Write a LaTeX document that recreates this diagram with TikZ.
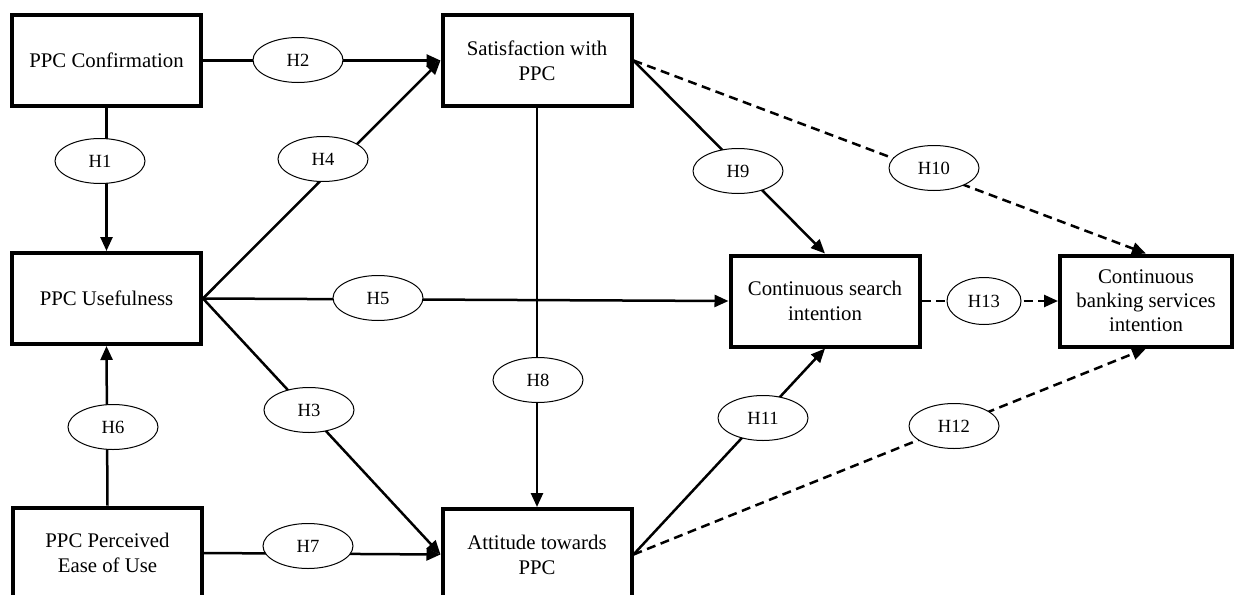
\documentclass[tikz,border=0pt]{standalone}
\usepackage{fontspec}
\setmainfont{Liberation Serif}
\usetikzlibrary{shapes, arrows.meta}

\begin{document}
\begin{tikzpicture}[
    x=0.5pt, y=-0.5pt,
    % --- styles ---
    % constructs: thick-bordered boxes
    construct/.style={draw, line width=2pt, fill=white, align=center, minimum width=94.5pt, minimum height=45.5pt, inner sep=2pt, font=\fontsize{10.4}{12.5}\selectfont},
    % hypothesis labels: thin ellipses
    hyp/.style={ellipse, draw, line width=0.5pt, fill=white, minimum width=45pt, minimum height=22.5pt, inner sep=0pt, font=\fontsize{9.3}{10}\selectfont},
    % paths
    path_arrow/.style={-{Triangle[length=7pt, width=6pt]}, line width=1.25pt},
    dash_arrow/.style={path_arrow, dash pattern=on 4.5pt off 2.8pt}
]
\clip (0,0) rectangle (1236,594);

% ==================== 1. constructs ====================
\node[construct] (Conf) at (106.5, 60.5) {PPC Confirmation};
\node[construct] (Sat) at (537, 60.5) {Satisfaction with\\PPC};
\node[construct] (Useful) at (106.5, 298.5) {PPC Usefulness};
\node[construct] (Search) at (825, 301) {Continuous search\\intention};
\node[construct, minimum width=86pt, font=\fontsize{10.4}{12}\selectfont] (Bank) at (1146, 301) {Continuous\\banking services\\intention};
\node[construct] (Ease) at (107.5, 553) {PPC Perceived\\Ease of Use};
\node[construct] (Att) at (537, 554.5) {Attitude towards\\PPC};

% ==================== 2. paths ====================
\draw[path_arrow] (Conf.south) -- (Useful.north);
\draw[path_arrow] (Conf.east) -- (Sat.west);
\draw[path_arrow] (Useful.east) -- (Sat.west);
\draw[path_arrow] (Useful.east) -- (Search.west);
\draw[path_arrow] (Useful.east) -- (Att.west);
\draw[path_arrow] (Ease.north) -- (Useful.south);
\draw[path_arrow] (Ease.east) -- (Att.west);
\draw[path_arrow] (Sat.south) -- (Att.north);
\draw[path_arrow] (Sat.east) -- (Search.north);
\draw[path_arrow] (Att.east) -- (Search.south);

% dashed paths into the banking intention
\draw[dash_arrow] (Sat.east) -- (Bank.north);
\draw[dash_arrow] (Att.east) -- (Bank.south);
\draw[dash_arrow] (Search.east) -- (Bank.west);

% ==================== 3. hypothesis labels ====================
\node[hyp] (H1) at (100, 161) {H1};
\node[hyp] (H2) at (298, 60) {H2};
\node[hyp] (H3) at (309, 410) {H3};
\node[hyp] (H4) at (323, 159) {H4};
\node[hyp] (H5) at (378, 298) {H5};
\node[hyp] (H6) at (113, 427) {H6};
\node[hyp] (H7) at (308, 546) {H7};
\node[hyp] (H8) at (538, 380) {H8};
\node[hyp] (H9) at (738, 171) {H9};
\node[hyp] (H10) at (934, 168) {H10};
\node[hyp] (H11) at (763, 418) {H11};
\node[hyp] (H12) at (954, 426) {H12};
\node[hyp, minimum width=37pt, minimum height=23.5pt] (H13) at (984, 301) {H13};

\end{tikzpicture}
\end{document}
